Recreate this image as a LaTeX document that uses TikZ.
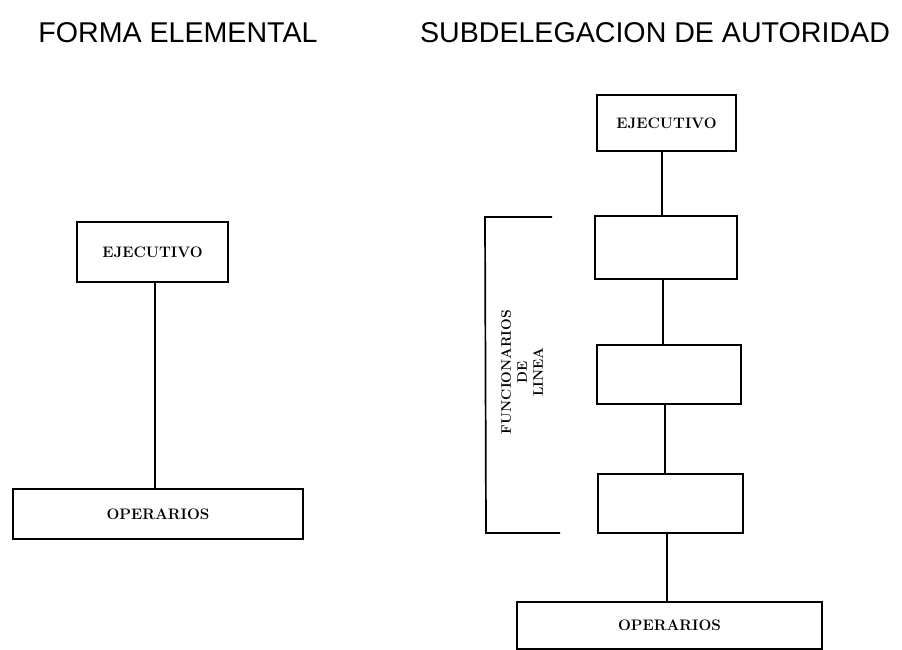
\documentclass[tikz,border=0pt]{standalone}
\usepackage{fontspec}
\newfontfamily\titlefont{Liberation Sans}
\begin{document}
\begin{tikzpicture}[x=1pt,y=-1pt,
  box/.style={draw,line width=2pt,inner sep=0pt,font=\fontsize{15.2}{17}\selectfont\bfseries},
  conn/.style={draw,line width=1.4pt},
  ttl/.style={font=\titlefont\fontsize{28.6}{32}\selectfont,inner sep=0pt}]
\useasboundingbox (0,0) rectangle (902,650);
% titles
\node[ttl] (t1) at (178,33) {FORMA ELEMENTAL};
\node[ttl] (t2) at (655,33) {SUBDELEGACION DE AUTORIDAD};
% left diagram
\node[box,minimum width=151pt,minimum height=60pt] (lE) at (152.5,252) {EJECUTIVO};
\node[box,minimum width=290pt,minimum height=50pt] (lO) at (158,514) {OPERARIOS};
\draw[conn] (lE.south -| 155,0) -- (lO.north -| 155,0);
% right diagram
\node[box,minimum width=139pt,minimum height=56pt] (rE) at (666.5,123) {EJECUTIVO};
\node[box,minimum width=142pt,minimum height=63pt] (r1) at (666,247.5) {};
\node[box,minimum width=144pt,minimum height=59pt] (r2) at (669,374.5) {};
\node[box,minimum width=145pt,minimum height=59pt] (r3) at (670.5,503.5) {};
\node[box,minimum width=305pt,minimum height=47pt] (rO) at (669.5,625) {OPERARIOS};
\draw[conn] (rE.south -| 662,0) -- (r1.north -| 662,0);
\draw[conn] (r1.south -| 663,0) -- (r2.north -| 663,0);
\draw[conn] (r2.south -| 665,0) -- (r3.north -| 665,0);
\draw[conn] (r3.south -| 667,0) -- (rO.north -| 667,0);
% bracket
\coordinate (bA) at (552,217);
\coordinate (bB) at (485,217);
\coordinate (bC) at (486,533);
\coordinate (bD) at (560,533);
\draw[line width=1.7pt] (bA) -- (bB) -- (bC) -- (bD);
\node[rotate=90,align=center,inner sep=0pt,font=\fontsize{13.8}{16}\selectfont\bfseries] (fl) at (522,372) {FUNCIONARIOS\\DE\\LINEA};
\end{tikzpicture}
\end{document}
